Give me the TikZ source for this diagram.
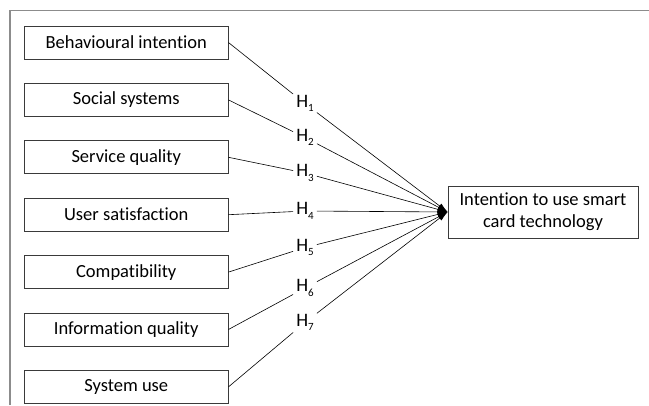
\documentclass[tikz,border=0pt]{standalone}
\usepackage{fontspec}
\setmainfont{Carlito}[Ligatures=NoCommon]
\usepackage{xcolor}
\usepackage{tikz}
\usetikzlibrary{arrows.meta,positioning}
\definecolor{Frame}{HTML}{8C8C8C}
\definecolor{Edge}{HTML}{3A3A3A}
\newcommand{\hlow}[1]{\raisebox{-4.5pt}{\fontsize{11}{11}\selectfont #1}}

\begin{document}
\begin{tikzpicture}[x=1pt,y=1pt,
    n/.style={draw=Edge,line width=0.9pt,minimum width=203.5pt,minimum height=33pt,align=center,inner sep=2pt,font=\fontsize{18.5}{22}\selectfont},
    hy/.style={inner sep=3pt,font=\fontsize{19}{22}\selectfont},
    l/.style={line width=0.6pt},
    a/.style={-{Latex[length=10pt,width=6pt]},line width=0.6pt}]
    \useasboundingbox (0,0) rectangle (649,405);
    \draw[Frame,line width=1.6pt] (10,0) -- (10,394.5) -- (649,394.5);
    \node[n] (bi) at (126.25,362.5) {Behavioural intention};
    \node[n,below=23.5pt of bi] (ss) {Social systems};
    \node[n,below=23.5pt of ss] (sq) {Service quality};
    \node[n,below=23.5pt of sq] (us) {User satisfaction};
    \node[n,below=23.5pt of us] (co) {Compatibility};
    \node[n,below=23.5pt of co] (iq) {Information quality};
    \node[n,below=23.5pt of iq] (su) {System use};
    \node[n,minimum width=190pt,minimum height=52pt] (itu) at (543,193) {Intention to use smart\\card technology};
    \node[hy] (h1) at (305,301.5) {H\hlow{1}};
    \node[hy] (h2) at (305,267.5) {H\hlow{2}};
    \node[hy] (h3) at (305,232) {H\hlow{3}};
    \node[hy] (h4) at (305,194) {H\hlow{4}};
    \node[hy] (h5) at (305,157.5) {H\hlow{5}};
    \node[hy] (h6) at (305,117) {H\hlow{6}};
    \node[hy] (h7) at (305,82.5) {H\hlow{7}};
    \draw[l] (bi.east)--(h1); \draw[a] (h1)--(itu.west);
    \draw[l] (ss.east)--(h2); \draw[a] (h2)--(itu.west);
    \draw[l] (sq.east)--(h3); \draw[a] (h3)--(itu.west);
    \draw[l] (us.east)--(h4); \draw[a] (h4)--(itu.west);
    \draw[l] (co.east)--(h5); \draw[a] (h5)--(itu.west);
    \draw[l] (iq.east)--(h6); \draw[a] (h6)--(itu.west);
    \draw[l] (su.east)--(h7); \draw[a] (h7)--(itu.west);
  \end{tikzpicture}
\end{document}
